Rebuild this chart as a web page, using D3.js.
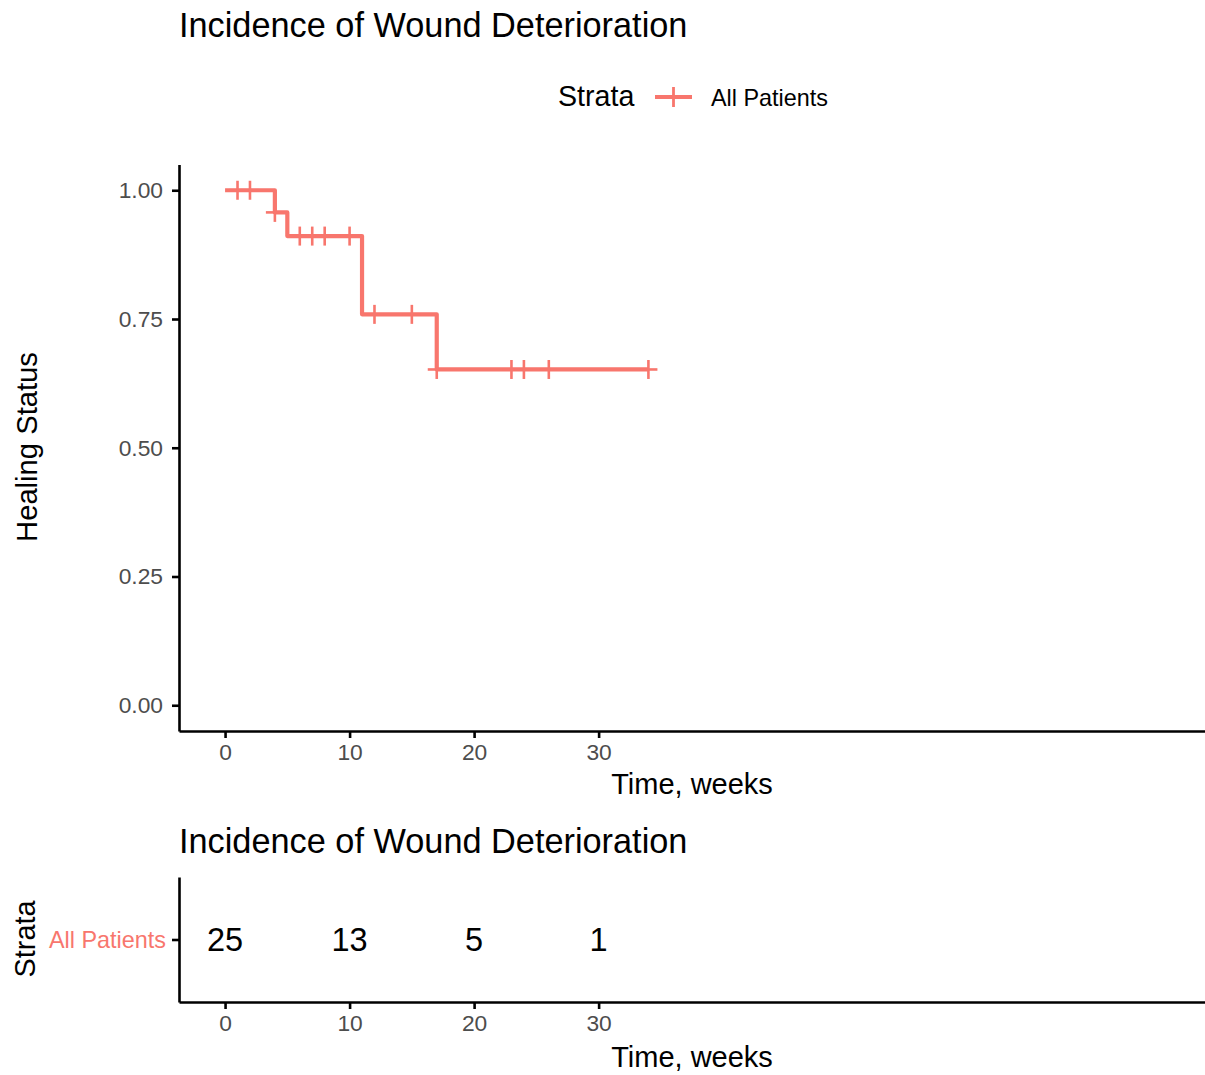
<!DOCTYPE html>
<html>
<head>
<meta charset="utf-8">
<script src="https://cdn.jsdelivr.net/npm/d3@7"></script>
<style>
  body { margin: 0; background: #fff; }
  svg { display: block; font-family: "Liberation Sans", Arial, Helvetica, sans-serif; }
</style>
</head>
<body>
<svg id="km" width="1205" height="1075"></svg>
<script>
// survival curve steps (time in weeks, survival prob)
const stepTimes = [0, 4, 5, 11, 17];
const stepSurv = [1.00, 0.957, 0.911, 0.759, 0.652];
const lastTime = 34;

// censored observations
const censorTimes = [1, 2, 4, 6, 7, 8, 10, 12, 15, 17, 23, 24, 26, 34];

// number at risk table
const riskTimes = [0, 10, 20, 30];
const atRisk = [25, 13, 5, 1];
const strataName = "All Patients";

const xTicks = [0, 10, 20, 30];
const yTicks = [0, 0.25, 0.5, 0.75, 1];

const titleText = "Incidence of Wound Deterioration";
const red = "#F8766D";

const svg = d3.select("#km");

// scales
const x = d3.scaleLinear().domain([-3.7, 78.7]).range([179, 1205]);
const y = d3.scaleLinear().domain([-0.05, 1.05]).range([731, 164.5]);

function survAt(t) {
  let s = stepSurv[0];
  stepTimes.forEach((st, i) => { if (st <= t) s = stepSurv[i]; });
  return s;
}

function styleAxis(g) {
  g.select(".domain").attr("stroke", "#000").attr("stroke-width", 2.6);
  g.selectAll(".tick line").attr("stroke", "#000").attr("stroke-width", 2.6);
  g.selectAll(".tick text").attr("fill", "#4D4D4D").style("font-size", "22.8px")
    .style("font-family", "'Liberation Sans', Arial, sans-serif");
}

// title
svg.append("text")
  .attr("x", 179).attr("y", 37)
  .style("font-size", "34.3px")
  .text(titleText);

// legend
svg.append("text")
  .attr("x", 558).attr("y", 106)
  .style("font-size", "28.6px")
  .text("Strata");
svg.append("line")
  .attr("x1", 655).attr("x2", 692).attr("y1", 97).attr("y2", 97)
  .attr("stroke", red).attr("stroke-width", 4);
svg.append("line")
  .attr("x1", 673.5).attr("x2", 673.5).attr("y1", 87).attr("y2", 107)
  .attr("stroke", red).attr("stroke-width", 2.8);
svg.append("text")
  .attr("x", 711).attr("y", 106)
  .style("font-size", "23.4px")
  .text(strataName);

// axes
svg.append("g")
  .attr("transform", "translate(179,0)")
  .call(d3.axisLeft(y).tickValues(yTicks).tickFormat(d3.format(".2f"))
    .tickSize(7).tickPadding(9).tickSizeOuter(0))
  .call(styleAxis);

svg.append("g")
  .attr("transform", "translate(0,731)")
  .call(d3.axisBottom(x).tickValues(xTicks).tickSize(7).tickPadding(6).tickSizeOuter(0))
  .call(styleAxis);

svg.append("text")
  .attr("x", 692).attr("y", 794)
  .attr("text-anchor", "middle")
  .style("font-size", "29px")
  .text("Time, weeks");

svg.append("text")
  .attr("transform", "translate(36.5,447) rotate(-90)")
  .attr("text-anchor", "middle")
  .style("font-size", "29.2px")
  .text("Healing Status");

// survival step line
const curveData = stepTimes.map((t, i) => ({ t: t, s: stepSurv[i] }));
curveData.push({ t: lastTime, s: stepSurv[stepSurv.length - 1] });

const line = d3.line()
  .x(d => x(d.t))
  .y(d => y(d.s))
  .curve(d3.curveStepAfter);

svg.append("path")
  .datum(curveData)
  .attr("d", line)
  .attr("fill", "none")
  .attr("stroke", red)
  .attr("stroke-width", 4.2)
  .attr("stroke-linejoin", "round");

// censor marks (+)
const marks = svg.append("g").attr("stroke", red).attr("stroke-width", 2.6);
censorTimes.forEach(t => {
  const cx = x(t), cy = y(survAt(t));
  marks.append("line").attr("x1", cx - 9).attr("x2", cx + 9).attr("y1", cy).attr("y2", cy);
  marks.append("line").attr("x1", cx).attr("x2", cx).attr("y1", cy - 9.5).attr("y2", cy + 9.5);
});

// ---- risk table ----
svg.append("text")
  .attr("x", 179).attr("y", 853)
  .style("font-size", "34.3px")
  .text(titleText);

const yr = d3.scalePoint().domain([strataName]).range([1002, 877]).padding(0.5);

svg.append("g")
  .attr("transform", "translate(179,0)")
  .call(d3.axisLeft(yr).tickSize(7).tickPadding(6).tickSizeOuter(0))
  .call(styleAxis)
  .call(g => g.selectAll(".tick text").attr("fill", red).style("font-size", "23.4px"));

svg.append("g")
  .attr("transform", "translate(0,1002)")
  .call(d3.axisBottom(x).tickValues(xTicks).tickSize(7).tickPadding(6).tickSizeOuter(0))
  .call(styleAxis);

svg.selectAll("text.risk")
  .data(riskTimes)
  .enter()
  .append("text")
  .attr("class", "risk")
  .attr("x", d => x(d))
  .attr("y", yr(strataName))
  .attr("dy", "0.35em")
  .attr("text-anchor", "middle")
  .style("font-size", "32.5px")
  .text((d, i) => atRisk[i]);

svg.append("text")
  .attr("x", 692).attr("y", 1067)
  .attr("text-anchor", "middle")
  .style("font-size", "29px")
  .text("Time, weeks");

svg.append("text")
  .attr("transform", "translate(35,939) rotate(-90)")
  .attr("text-anchor", "middle")
  .style("font-size", "28.8px")
  .text("Strata");
</script>
</body>
</html>
